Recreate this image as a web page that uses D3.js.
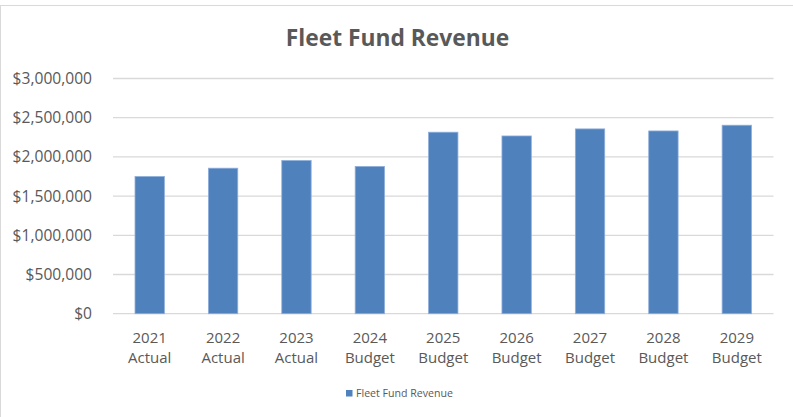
<!DOCTYPE html>
<html>
<head>
<meta charset="utf-8">
<script src="https://cdn.jsdelivr.net/npm/d3@7"></script>
<style>
  html, body { margin: 0; padding: 0; background: #fff; }
  svg { display: block; }
  text { font-family: "Open Sans", "Noto Sans", sans-serif; fill: #595959; }
</style>
</head>
<body>
<script>
// Fleet fund revenue by year (actuals and budget)
const years = ["2021", "2022", "2023", "2024", "2025", "2026", "2027", "2028", "2029"];
const kinds = ["Actual", "Actual", "Actual", "Budget", "Budget", "Budget", "Budget", "Budget", "Budget"];
const revenue = [1750000, 1856000, 1954000, 1878000, 2315000, 2267000, 2357000, 2331000, 2404000];
const yTicks = [0, 500000, 1000000, 1500000, 2000000, 2500000, 3000000];
const seriesName = "Fleet Fund Revenue";

const W = 793, H = 417;
const plot = { left: 113, right: 773.5, top: 78.5, bottom: 313.7 };

const svg = d3.select("body").append("svg").attr("width", W).attr("height", H);

// chart frame
svg.append("rect")
  .attr("x", 0.5).attr("y", 5.5)
  .attr("width", W + 10).attr("height", H + 10)
  .attr("fill", "#fff").attr("stroke", "#d9d9d9").attr("stroke-width", 1);

const x = d3.scaleBand().domain(years).range([plot.left, plot.right]).padding(0);
const y = d3.scaleLinear().domain([0, 3000000]).range([plot.bottom, plot.top]);

// gridlines
svg.append("g")
  .selectAll("line")
  .data(yTicks)
  .join("line")
  .attr("x1", plot.left).attr("x2", plot.right)
  .attr("y1", d => y(d)).attr("y2", d => y(d))
  .attr("stroke", "#d9d9d9").attr("stroke-width", 1.3);

// y axis labels
const fmt = d3.format("$,");
const yAxis = d3.axisLeft(y).tickValues(yTicks).tickFormat(fmt).tickSize(0).tickPadding(21);
const gy = svg.append("g").attr("transform", `translate(${plot.left},0)`).call(yAxis);
gy.select(".domain").remove();
gy.selectAll("text")
  .attr("font-size", "15.6px")
  .attr("font-family", "'Open Sans', sans-serif")
  .attr("fill", "#595959");

// bars
const barW = x.bandwidth() * 0.4;
svg.append("g")
  .selectAll("rect")
  .data(revenue)
  .join("rect")
  .attr("x", (d, i) => x(years[i]) + (x.bandwidth() - barW) / 2)
  .attr("y", d => y(d))
  .attr("width", barW)
  .attr("height", d => y(0) - y(d))
  .attr("fill", "#4f81bd")
  .attr("stroke", "#8eaedb")
  .attr("stroke-width", 0.8);

// category labels (two lines)
const xAxis = d3.axisBottom(x).tickSize(0).tickFormat(() => "");
const gx = svg.append("g").attr("transform", `translate(0,${plot.bottom})`).call(xAxis);
gx.select(".domain").remove();
gx.selectAll(".tick").each(function (d, i) {
  const t = d3.select(this).append("text")
    .attr("text-anchor", "middle")
    .attr("font-size", "15px")
    .attr("fill", "#595959");
  t.append("tspan").attr("x", 0).attr("y", 29.6).text(d);
  t.append("tspan").attr("x", 0).attr("y", 49.6).text(kinds[i]);
});

// title
svg.append("text")
  .attr("x", 397.5).attr("y", 46)
  .attr("text-anchor", "middle")
  .attr("font-size", "22.8px")
  .attr("font-weight", "bold")
  .attr("fill", "#595959")
  .text("Fleet Fund Revenue");

// legend
const lg = svg.append("g").attr("transform", "translate(346,390)");
lg.append("rect").attr("width", 6.5).attr("height", 6.5).attr("fill", "#4f81bd");
lg.append("text")
  .attr("x", 10).attr("y", 7)
  .attr("font-size", "10.6px")
  .attr("fill", "#595959")
  .text(seriesName);
</script>
</body>
</html>
